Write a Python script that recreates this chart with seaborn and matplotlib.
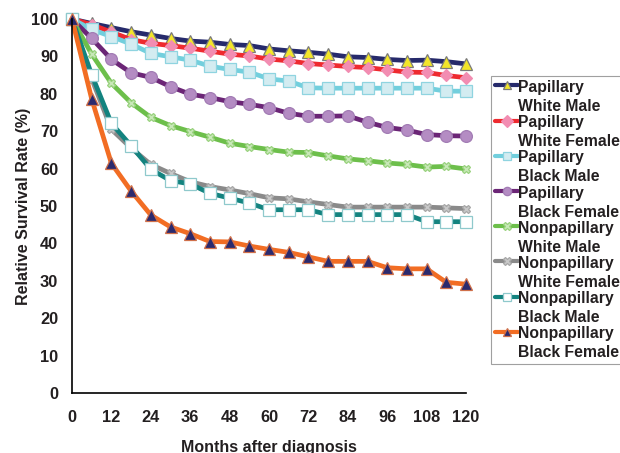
import matplotlib
matplotlib.use("Agg")
import matplotlib.pyplot as plt
import seaborn as sns
import pandas as pd

months = [0, 6, 12, 18, 24, 30, 36, 42, 48, 54, 60, 66, 72, 78, 84, 90, 96, 102, 108, 114, 120]

pap_white_male = [100, 98.8, 97.7, 96.6, 95.7, 94.8, 94.1, 93.8, 93.2, 92.9, 92.0,
                  91.5, 91.1, 90.6, 89.9, 89.7, 89.2, 88.9, 89.0, 88.6, 88.0]
pap_white_female = [100, 98.5, 96.5, 94.5, 93.5, 92.9, 92.2, 91.4, 90.6, 90.1, 89.3,
                    88.8, 88.1, 87.7, 87.3, 87.0, 86.4, 85.8, 85.7, 84.9, 84.3]
pap_black_male = [100, 97.2, 95.3, 93.3, 90.8, 89.9, 89.0, 87.4, 86.5, 85.8, 84.0,
                  83.4, 81.6, 81.5, 81.5, 81.5, 81.5, 81.5, 81.5, 80.7, 80.7]
pap_black_female = [100, 94.8, 89.2, 85.6, 84.4, 81.9, 79.9, 79.0, 77.9, 77.2, 76.3,
                    74.8, 74.0, 74.0, 74.1, 72.4, 71.0, 70.3, 69.1, 68.8, 68.7]
nonpap_white_male = [100, 90.6, 82.8, 77.6, 73.7, 71.5, 69.9, 68.4, 66.8, 65.9, 65.1,
                     64.4, 64.3, 63.4, 62.6, 62.1, 61.5, 61.1, 60.4, 60.6, 59.9]
nonpap_white_female = [100, 84.0, 70.5, 65.5, 61.1, 58.7, 56.5, 55.2, 54.3, 53.3, 52.2,
                       51.9, 51.1, 50.4, 49.7, 49.7, 49.7, 49.7, 49.7, 49.5, 49.3]
nonpap_black_male = [100, 85.1, 72.1, 66.1, 59.8, 56.8, 55.9, 53.4, 52.1, 50.8, 49.0,
                     49.0, 49.0, 47.7, 47.7, 47.7, 47.7, 47.7, 45.8, 45.8, 45.8]
nonpap_black_female = [100, 78.6, 61.4, 54.0, 47.6, 44.4, 42.6, 40.5, 40.4, 39.3, 38.4,
                       37.6, 36.4, 35.2, 35.2, 35.2, 33.5, 33.2, 33.2, 29.6, 29.1]

labels = ["Papillary\nWhite Male", "Papillary\nWhite Female", "Papillary\nBlack Male",
          "Papillary\nBlack Female", "Nonpapillary\nWhite Male", "Nonpapillary\nWhite Female",
          "Nonpapillary\nBlack Male", "Nonpapillary\nBlack Female"]
series = [pap_white_male, pap_white_female, pap_black_male, pap_black_female,
          nonpap_white_male, nonpap_white_female, nonpap_black_male, nonpap_black_female]
x_ticks = [0, 12, 24, 36, 48, 60, 72, 84, 96, 108, 120]
y_ticks = [0, 10, 20, 30, 40, 50, 60, 70, 80, 90, 100]

styles = [
    dict(color="#262A6B", marker="^", mfc="#F2E52A", mec="#7A7A7A", ms=8),
    dict(color="#EE2A2F", marker="D", mfc="#F28DB2", mec="#F28DB2", ms=6),
    dict(color="#72CFDD", marker="s", mfc="#D3ECF1", mec="#8FD4E0", ms=8),
    dict(color="#6B2576", marker="o", mfc="#B48CC3", mec="#A27CB4", ms=8.5),
    dict(color="#6DBF4B", marker="X", mfc="#C8E8B8", mec="#9AD27F", ms=6),
    dict(color="#8A8A8A", marker="X", mfc="#C8C8C8", mec="#A8A8A8", ms=6),
    dict(color="#13837F", marker="s", mfc="white", mec="#8FC9CC", ms=8),
    dict(color="#F26D23", marker="^", mfc="#2B2A6E", mec="#D0704A", ms=8),
]

sns.set_style("white")
plt.rcParams["font.family"] = ["Liberation Sans", "DejaVu Sans"]
plt.rcParams["font.weight"] = "bold"
text_color = "#231F20"

fig = plt.figure(figsize=(6.2, 4.53), dpi=100)
ax = fig.add_axes([72 / 620, 1 - 393 / 453, (466 - 72) / 620, (393 - 19) / 453])

for lab, vals, st in zip(labels, series, styles):
    df = pd.DataFrame({"Months": months, "Rate": vals})
    sns.lineplot(data=df, x="Months", y="Rate", ax=ax, color=st["color"], lw=3.4,
                 marker=st["marker"], markerfacecolor=st["mfc"], markeredgecolor=st["mec"],
                 markersize=st["ms"], markeredgewidth=0.9, label=lab, clip_on=False)

ax.set_xlim(0, 120)
ax.set_ylim(0, 100)
ax.set_xticks(x_ticks)
ax.set_yticks(y_ticks)
ax.tick_params(axis="both", direction="out", length=4, width=1, color="#9A9A9A",
               labelsize=11.8, labelcolor=text_color)
ax.tick_params(axis="x", pad=8)
ax.tick_params(axis="y", pad=6)
for t in ax.get_xticklabels() + ax.get_yticklabels():
    t.set_fontweight("bold")
for s in ["top", "right"]:
    ax.spines[s].set_visible(False)
for s in ["left", "bottom"]:
    ax.spines[s].set_color("black")
    ax.spines[s].set_linewidth(1.2)
ax.set_xlabel("Months after diagnosis", fontsize=11.5, fontweight="bold", color=text_color, labelpad=11)
ax.set_ylabel("Relative Survival Rate (%)", fontsize=11.5, fontweight="bold", color=text_color, labelpad=0)

handles, lbls = ax.get_legend_handles_labels()
ax.legend_.remove()
leg = fig.legend(handles, lbls, loc="upper left", bbox_to_anchor=(491 / 620, 1 - 76 / 453),
                 frameon=True, fancybox=False, edgecolor="#A0A0A0", framealpha=1,
                 handlelength=1.5, handletextpad=0.0, borderpad=0.25, labelspacing=0.08,
                 borderaxespad=0, prop=dict(size=11.3, weight="bold"))
leg.get_frame().set_linewidth(0.8)
for t in leg.get_texts():
    t.set_color(text_color)
    t.set_linespacing(1.33)
for h in leg.legend_handles:
    h.set_markersize(6)
    h.set_linewidth(3)
# align each legend handle with the first line of its two-line label
try:
    for col in leg._legend_handle_box.get_children():
        for item in col.get_children():
            item.align = "top"
except Exception:
    pass

fig.savefig("out.png", dpi=100)
